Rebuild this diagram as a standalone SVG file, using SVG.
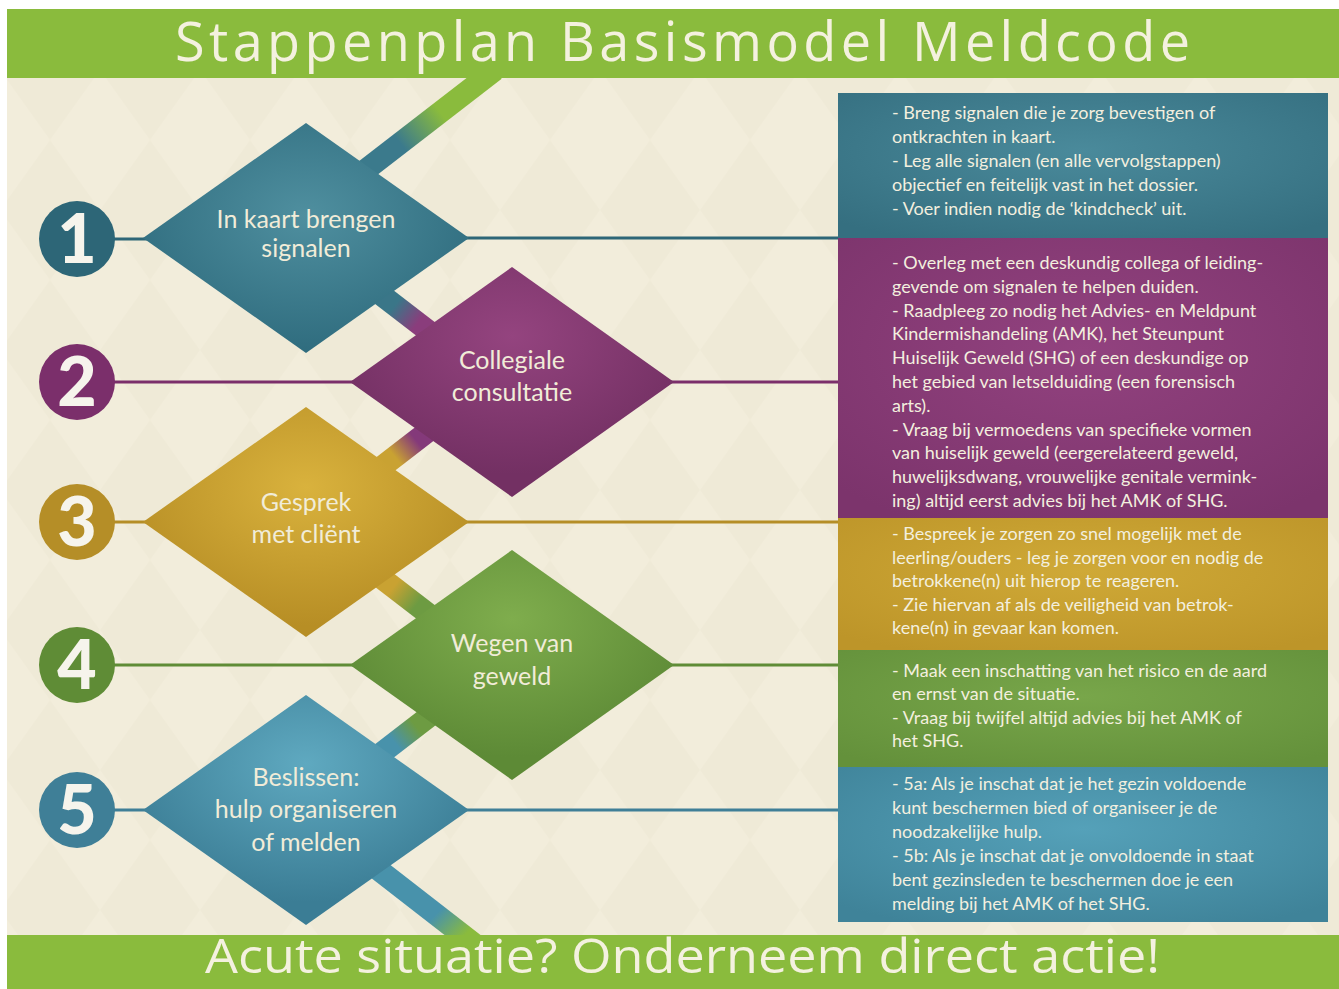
<svg xmlns="http://www.w3.org/2000/svg" width="1339" height="989" viewBox="0 0 1339 989">
<defs>
<style>
.banner{fill:#8abb3d}
.title{font-family:"Open Sans","Liberation Sans",sans-serif;fill:#f4f1df}
.dlabel{font-family:Lato,"Open Sans","Liberation Sans",sans-serif;font-size:25px;fill:#f1ecd8;text-anchor:middle}
.num{font-family:Lato,"Liberation Sans",sans-serif;font-weight:900;font-size:68px;fill:#f6f4ec;text-anchor:middle}
.btxt{font-family:Lato,"Open Sans","Liberation Sans",sans-serif;font-size:18px;fill:#f3efdf}
.band{stroke-width:22;fill:none}
.ln{stroke-width:3;fill:none}
</style>
<pattern id="argyle" width="100" height="140" patternUnits="userSpaceOnUse">
<rect width="100" height="140" fill="#f2eddb"/>
<polygon points="50,0 100,70 50,140 0,70" fill="#ece6d1" opacity="0.4"/>
</pattern>
<radialGradient id="gD1" cx="0.5" cy="0.4" r="0.6"><stop offset="0" stop-color="#4f8f9f"/><stop offset="1" stop-color="#2f6c7e"/></radialGradient>
<radialGradient id="gD2" cx="0.5" cy="0.3" r="0.6"><stop offset="0" stop-color="#94447f"/><stop offset="1" stop-color="#733063"/></radialGradient>
<radialGradient id="gD3" cx="0.5" cy="0.35" r="0.6"><stop offset="0" stop-color="#d9b23d"/><stop offset="1" stop-color="#b78e25"/></radialGradient>
<radialGradient id="gD4" cx="0.5" cy="0.3" r="0.6"><stop offset="0" stop-color="#7fad4d"/><stop offset="1" stop-color="#5d8a36"/></radialGradient>
<radialGradient id="gD5" cx="0.5" cy="0.3" r="0.6"><stop offset="0" stop-color="#5fa9c0"/><stop offset="1" stop-color="#3b7d95"/></radialGradient>
<radialGradient id="gB1" cx="0.5" cy="0.4" r="0.7"><stop offset="0" stop-color="#4a8a9b"/><stop offset="1" stop-color="#356f80"/></radialGradient>
<radialGradient id="gB2" cx="0.5" cy="0.4" r="0.7"><stop offset="0" stop-color="#92427f"/><stop offset="1" stop-color="#7c346c"/></radialGradient>
<radialGradient id="gB3" cx="0.5" cy="0.4" r="0.7"><stop offset="0" stop-color="#cfa937"/><stop offset="1" stop-color="#bd9529"/></radialGradient>
<radialGradient id="gB4" cx="0.5" cy="0.4" r="0.7"><stop offset="0" stop-color="#78a64a"/><stop offset="1" stop-color="#64913b"/></radialGradient>
<radialGradient id="gB5" cx="0.5" cy="0.4" r="0.7"><stop offset="0" stop-color="#55a1b9"/><stop offset="1" stop-color="#3f8399"/></radialGradient>
<linearGradient id="lb0" gradientUnits="userSpaceOnUse" x1="440" y1="112" x2="400" y2="143"><stop offset="0" stop-color="#8abb3d"/><stop offset="1" stop-color="#3b7a8c"/></linearGradient>
<linearGradient id="lb1" gradientUnits="userSpaceOnUse" x1="395" y1="305" x2="418" y2="323"><stop offset="0" stop-color="#3a7688"/><stop offset="1" stop-color="#8a3d7c"/></linearGradient>
<linearGradient id="lb2" gradientUnits="userSpaceOnUse" x1="416" y1="440" x2="395" y2="457"><stop offset="0" stop-color="#84397a"/><stop offset="1" stop-color="#c9a232"/></linearGradient>
<linearGradient id="lb3" gradientUnits="userSpaceOnUse" x1="395" y1="585" x2="418" y2="603"><stop offset="0" stop-color="#c9a232"/><stop offset="1" stop-color="#6d9b42"/></linearGradient>
<linearGradient id="lb4" gradientUnits="userSpaceOnUse" x1="416" y1="726" x2="395" y2="743"><stop offset="0" stop-color="#6d9b42"/><stop offset="1" stop-color="#4892ab"/></linearGradient>
<linearGradient id="lb5" gradientUnits="userSpaceOnUse" x1="440" y1="910" x2="465" y2="935"><stop offset="0" stop-color="#4892ab"/><stop offset="1" stop-color="#8abb3d"/></linearGradient>
</defs>

<rect width="1339" height="989" fill="#ffffff"/>
<rect x="7" y="9" width="1332" height="980" fill="url(#argyle)"/>

<g id="connectors">
<line class="band" x1="495" y1="70" x2="350" y2="182" stroke="url(#lb0)"/>
<line class="band" x1="375" y1="290" x2="440" y2="340" stroke="url(#lb1)"/>
<line class="band" x1="440" y1="422" x2="370" y2="476" stroke="url(#lb2)"/>
<line class="band" x1="375" y1="573" x2="440" y2="623" stroke="url(#lb3)"/>
<line class="band" x1="440" y1="708" x2="370" y2="762" stroke="url(#lb4)"/>
<line class="band" x1="366" y1="860" x2="478" y2="947" stroke="url(#lb5)"/>
<line class="ln" x1="100" y1="239" x2="160" y2="239" stroke="#2d6677"/>
<line class="ln" x1="450" y1="238" x2="838" y2="238" stroke="#2d6677"/>
<line class="ln" x1="100" y1="382" x2="370" y2="382" stroke="#7b2f6b"/>
<line class="ln" x1="650" y1="382" x2="838" y2="382" stroke="#7b2f6b"/>
<line class="ln" x1="100" y1="522" x2="160" y2="522" stroke="#b58e27"/>
<line class="ln" x1="450" y1="522" x2="838" y2="522" stroke="#b58e27"/>
<line class="ln" x1="100" y1="665" x2="370" y2="665" stroke="#5f8c36"/>
<line class="ln" x1="650" y1="665" x2="838" y2="665" stroke="#5f8c36"/>
<line class="ln" x1="100" y1="810" x2="160" y2="810" stroke="#3f7f97"/>
<line class="ln" x1="450" y1="810" x2="838" y2="810" stroke="#3f7f97"/>
</g>

<g id="banner-top">
<rect class="banner" x="7" y="9" width="1332" height="69"/>
<text class="title" x="175" y="61" font-size="54" textLength="1015" lengthAdjust="spacing">Stappenplan Basismodel Meldcode</text>
</g>

<g id="step1">
<circle cx="77" cy="239" r="38" fill="#2d6677"/>
<text class="num" x="77" y="263">1</text>
<polygon points="306,123 469,238 306,353 143,238" fill="url(#gD1)"/>
<text class="dlabel" x="306" y="228">In kaart brengen</text>
<text class="dlabel" x="306" y="257">signalen</text>
<rect x="838" y="93" width="490" height="145" fill="url(#gB1)"/>
<text class="btxt"><tspan x="892" y="119">- Breng signalen die je zorg bevestigen of</tspan><tspan x="892" y="143">ontkrachten in kaart.</tspan><tspan x="892" y="167">- Leg alle signalen (en alle vervolgstappen)</tspan><tspan x="892" y="191">objectief en feitelijk vast in het dossier.</tspan><tspan x="892" y="215">- Voer indien nodig de ‘kindcheck’ uit.</tspan></text>
</g>

<g id="step2">
<circle cx="77" cy="382" r="38" fill="#7b2f6b"/>
<text class="num" x="77" y="406">2</text>
<polygon points="512,267 674,382 512,497 350,382" fill="url(#gD2)"/>
<text class="dlabel" x="512" y="369">Collegiale</text>
<text class="dlabel" x="512" y="401">consultatie</text>
<rect x="838" y="238" width="490" height="280" fill="url(#gB2)"/>
<text class="btxt"><tspan x="892" y="269">- Overleg met een deskundig collega of leiding-</tspan><tspan x="892" y="293">gevende om signalen te helpen duiden.</tspan><tspan x="892" y="317">- Raadpleeg zo nodig het Advies- en Meldpunt</tspan><tspan x="892" y="340">Kindermishandeling (AMK), het Steunpunt</tspan><tspan x="892" y="364">Huiselijk Geweld (SHG) of een deskundige op</tspan><tspan x="892" y="388">het gebied van letselduiding (een forensisch</tspan><tspan x="892" y="412">arts).</tspan><tspan x="892" y="436">- Vraag bij vermoedens van specifieke vormen</tspan><tspan x="892" y="459">van huiselijk geweld (eergerelateerd geweld,</tspan><tspan x="892" y="483">huwelijksdwang, vrouwelijke genitale vermink-</tspan><tspan x="892" y="507">ing) altijd eerst advies bij het AMK of SHG.</tspan></text>
</g>

<g id="step3">
<circle cx="77" cy="522" r="38" fill="#b58e27"/>
<text class="num" x="77" y="546">3</text>
<polygon points="306,407 469,522 306,637 143,522" fill="url(#gD3)"/>
<text class="dlabel" x="306" y="511">Gesprek</text>
<text class="dlabel" x="306" y="543">met cliënt</text>
<rect x="838" y="518" width="490" height="132" fill="url(#gB3)"/>
<text class="btxt"><tspan x="892" y="540">- Bespreek je zorgen zo snel mogelijk met de</tspan><tspan x="892" y="564">leerling/ouders - leg je zorgen voor en nodig de</tspan><tspan x="892" y="587">betrokkene(n) uit hierop te reageren.</tspan><tspan x="892" y="611">- Zie hiervan af als de veiligheid van betrok-</tspan><tspan x="892" y="634">kene(n) in gevaar kan komen.</tspan></text>
</g>

<g id="step4">
<circle cx="77" cy="665" r="38" fill="#5f8c36"/>
<text class="num" x="77" y="689">4</text>
<polygon points="512,550 674,665 512,780 350,665" fill="url(#gD4)"/>
<text class="dlabel" x="512" y="652">Wegen van</text>
<text class="dlabel" x="512" y="685">geweld</text>
<rect x="838" y="650" width="490" height="117" fill="url(#gB4)"/>
<text class="btxt"><tspan x="892" y="677">- Maak een inschatting van het risico en de aard</tspan><tspan x="892" y="700">en ernst van de situatie.</tspan><tspan x="892" y="724">- Vraag bij twijfel altijd advies bij het AMK of</tspan><tspan x="892" y="747">het SHG.</tspan></text>
</g>

<g id="step5">
<circle cx="77" cy="810" r="38" fill="#3f7f97"/>
<text class="num" x="77" y="834">5</text>
<polygon points="306,695 469,810 306,925 143,810" fill="url(#gD5)"/>
<text class="dlabel" x="306" y="786">Beslissen:</text>
<text class="dlabel" x="306" y="818">hulp organiseren</text>
<text class="dlabel" x="306" y="851">of melden</text>
<rect x="838" y="767" width="490" height="155" fill="url(#gB5)"/>
<text class="btxt"><tspan x="892" y="790">- 5a: Als je inschat dat je het gezin voldoende</tspan><tspan x="892" y="814">kunt beschermen bied of organiseer je de</tspan><tspan x="892" y="838">noodzakelijke hulp.</tspan><tspan x="892" y="862">- 5b: Als je inschat dat je onvoldoende in staat</tspan><tspan x="892" y="886">bent gezinsleden te beschermen doe je een</tspan><tspan x="892" y="910">melding bij het AMK of het SHG.</tspan></text>
</g>

<g id="banner-bottom">
<rect class="banner" x="7" y="935" width="1332" height="54"/>
<text class="title" x="205" y="973" font-size="47" textLength="955" lengthAdjust="spacingAndGlyphs">Acute situatie? Onderneem direct actie!</text>
</g>
</svg>
